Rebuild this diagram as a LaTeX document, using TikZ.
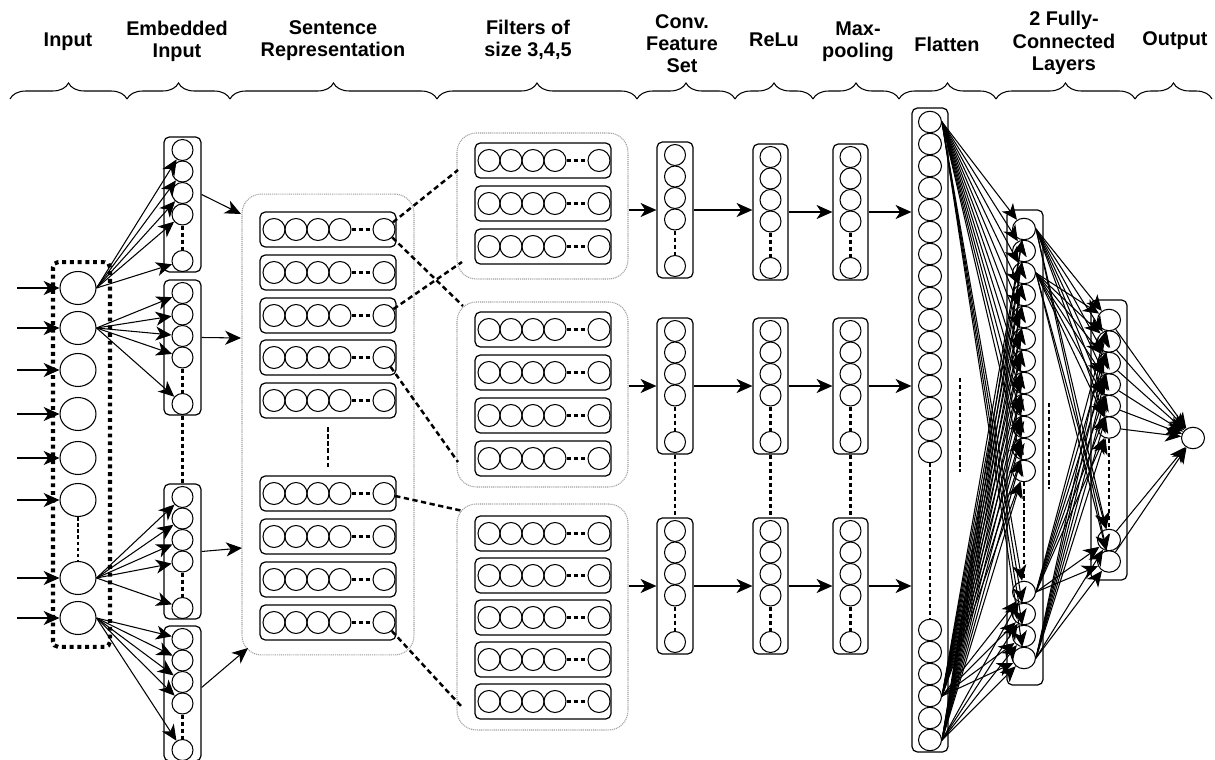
\documentclass[tikz,border=0pt]{standalone}
\usepackage{fontspec}
\setmainfont{Liberation Sans}
\usetikzlibrary{arrows.meta,decorations.pathreplacing,shapes.geometric,calc}
\begin{document}
\begin{tikzpicture}[x=0.02cm,y=-0.02cm,
  hdr/.style={font=\bfseries\fontsize{11.3}{12.6}\selectfont, align=center, inner sep=0pt},
  brc/.style={decorate, decoration={brace, amplitude=0.32cm}, line width=0.6pt},
  cir/.style={circle, draw, line width=0.6pt, minimum size=0.42cm, inner sep=0pt},
  rcir/.style={circle, draw, line width=0.6pt, minimum size=0.44cm, inner sep=0pt},
  ell/.style={ellipse, draw, line width=0.6pt, minimum width=0.72cm, minimum height=0.66cm, inner sep=0pt},
  fcell/.style={ellipse, draw, line width=0.6pt, minimum width=0.46cm, minimum height=0.43cm, inner sep=0pt},
  box/.style={draw, rounded corners=3pt, line width=0.7pt, inner sep=0pt},
  grp/.style={draw=gray!75, dash pattern=on 0.6pt off 0.5pt, line width=0.6pt, rounded corners=11pt, inner sep=0pt},
  inbox/.style={draw, line width=2.3pt, dash pattern=on 2.2pt off 2.2pt, rounded corners=3pt, inner sep=0pt},
  arr/.style={-{Stealth[length=9pt,width=8pt,inset=2.6pt]}, line width=0.6pt},
  bigdash/.style={line width=1.4pt, dash pattern=on 3pt off 2pt},
  indash/.style={line width=1.4pt, dash pattern=on 2.4pt off 1.6pt},
]
\useasboundingbox (0,0) rectangle (1215,760);

% headers
\node[hdr] (h1) at (68,42) {Input};
\node[hdr] (h2) at (177,41) {Embedded\\Input};
\node[hdr] (h3) at (333,41) {Sentence\\Representation};
\node[hdr] (h4) at (528,40) {Filters of\\size 3,4,5};
\node[hdr] (h5) at (682,44) {Conv.\\Feature\\Set};
\node[hdr] (h6) at (774,40) {ReLu};
\node[hdr] (h7) at (858,42) {Max-\\pooling};
\node[hdr] (h8) at (947,44) {Flatten};
\node[hdr] (h9) at (1064,43) {2 Fully-\\Connected\\Layers};
\node[hdr] (h10) at (1175,41) {Output};

% braces
\foreach \a/\b in {10/127,127/230,230/437,437/637,637/735,735/813,813/899,899/996,996/1135,1135/1212}
  \draw[brc] (\a,99) -- (\b,99);

% input
\node[inbox, minimum width=1.14cm, minimum height=7.7cm] (ingrp) at (81.5,454.5) {};
\foreach \y [count=\i] in {288,328,370,414,458,500,578,618} {
  \node[ell] (in\i) at (78,\y) {};
  \coordinate (src\i) at (17,\y);
}

% embedded input
\foreach \t [count=\b] in {137,280,484,626} {
  \node[box, minimum width=0.74cm, minimum height=2.7cm] (eb\b) at (182.5,\t+67.5) {};
  \foreach \o [count=\i] in {13,34.5,56,77.5,124}
    \node[cir] (e\b-\i) at (182.5,\t+\o) {};
  \draw[indash] (e\b-4) -- (e\b-5);
}
\draw[indash] (eb2) -- (eb3);

% sentence representation
\node[grp, minimum width=3.44cm, minimum height=9.22cm] (sent) at (328,424.5) {};
\foreach \t [count=\r] in {212,255,298,340,383,476,519,562,605} {
  \node[box, minimum width=2.72cm, minimum height=0.7cm] (sr\r) at (328,\t+17.5) {};
  \foreach \x [count=\i] in {274,296,318,340,384}
    \node[rcir] (s\r-\i) at (\x,\t+17.5) {};
  \draw[indash] (s\r-4) -- (s\r-5);
}
\draw[indash, shorten <=5pt, shorten >=4pt] (sr5) -- (sr6);

% filters
\node[grp, minimum width=3.42cm, minimum height=2.92cm] (fg1) at (542.5,206) {};
\node[grp, minimum width=3.42cm, minimum height=3.7cm] (fg2) at (542.5,394.5) {};
\node[grp, minimum width=3.42cm, minimum height=4.52cm] (fg3) at (542.5,617) {};
\foreach \t [count=\r] in {143,186,229} {
  \node[box, minimum width=2.72cm, minimum height=0.7cm] (fra\r) at (543,\t+17.5) {};
  \foreach \x [count=\i] in {489,511,533,555,599}
    \node[rcir] (fa\r-\i) at (\x,\t+17.5) {};
  \draw[indash] (fa\r-4) -- (fa\r-5);
}
\foreach \t [count=\r] in {312,355,398,441} {
  \node[box, minimum width=2.72cm, minimum height=0.7cm] (frb\r) at (543,\t+17.5) {};
  \foreach \x [count=\i] in {489,511,533,555,599}
    \node[rcir] (fb\r-\i) at (\x,\t+17.5) {};
  \draw[indash] (fb\r-4) -- (fb\r-5);
}
\foreach \t [count=\r] in {516,558,600,642,684} {
  \node[box, minimum width=2.72cm, minimum height=0.7cm] (frc\r) at (543,\t+17.5) {};
  \foreach \x [count=\i] in {489,511,533,555,599}
    \node[rcir] (fc\r-\i) at (\x,\t+17.5) {};
  \draw[indash] (fc\r-4) -- (fc\r-5);
}

% conv / relu / maxpool
\foreach \t [count=\i] in {142,318,518} {
  \node[box, minimum width=0.72cm, minimum height=2.72cm] (cv\i) at (675,\t+68) {};
  \foreach \o [count=\k] in {13,34.5,56,77.5,124}
    \node[cir] (c\i-\k) at (675,\t+\o) {};
  \draw[indash] (c\i-4) -- (c\i-5);
}
\foreach \t [count=\i] in {144,318,518} {
  \node[box, minimum width=0.7cm, minimum height=2.72cm] (rl\i) at (770.5,\t+68) {};
  \foreach \o [count=\k] in {13,34.5,56,77.5,124}
    \node[cir] (r\i-\k) at (770.5,\t+\o) {};
  \draw[indash] (r\i-4) -- (r\i-5);
  \node[box, minimum width=0.7cm, minimum height=2.72cm] (mx\i) at (850.5,\t+68) {};
  \foreach \o [count=\k] in {13,34.5,56,77.5,124}
    \node[cir] (m\i-\k) at (850.5,\t+\o) {};
  \draw[indash] (m\i-4) -- (m\i-5);
}
\draw[indash] (cv2) -- (cv3);
\draw[indash] (rl2) -- (rl3);
\draw[indash] (mx2) -- (mx3);

% flatten
\node[box, minimum width=0.72cm, minimum height=12.88cm] (fl) at (930,430) {};
\foreach \i in {1,...,16}
  \node[fcell] (fz\i) at (930,{122+22*(\i-1)}) {};
\foreach \i in {17,...,22}
  \node[fcell] (fz\i) at (930,{630+22*(\i-17)}) {};
\draw[indash] (fz16) -- (fz17);

% fully connected 1
\node[box, minimum width=0.72cm, minimum height=9.5cm] (fc1) at (1025,447.5) {};
\foreach \i in {1,...,12}
  \node[fcell] (ua\i) at (1024,{229+22*(\i-1)}) {};
\foreach \i in {13,...,16}
  \node[fcell] (ua\i) at (1024,{592+22*(\i-13)}) {};
\draw[indash] (ua12) -- (ua13);

% fully connected 2
\node[box, minimum width=0.72cm, minimum height=5.6cm] (fc2) at (1109,440) {};
\foreach \i in {1,...,6}
  \node[fcell] (ub\i) at (1109,{320+21.5*(\i-1)}) {};
\node[fcell] (ub7) at (1109,540) {};
\node[fcell] (ub8) at (1109,561.5) {};
\draw[indash] (ub6) -- (ub7);

% output
\node[fcell] (out) at (1193,438) {};

% free dashed marks between layers
\coordinate (ga) at (960,378); \coordinate (gb) at (960,472);
\coordinate (gc) at (1049,403); \coordinate (gd) at (1049,489);
\draw[indash] (ga) -- (gb);
\draw[indash] (gc) -- (gd);

% ---------- connectors ----------
\foreach \i in {1,...,8} \draw[arr] (src\i) -- (in\i);
\draw[line width=0.8pt, dash pattern=on 2pt off 1.5pt] (in6) -- (in7);
\foreach \i in {1,...,5} {
  \draw[arr] (in1.east) -- (e1-\i);
  \draw[arr] (in2.east) -- (e2-\i);
  \draw[arr] (in7.east) -- (e3-\i);
  \draw[arr] (in8.east) -- (e4-\i);
}

\coordinate (sin1) at (241,214);
\coordinate (sin2) at (241,338);
\coordinate (sin3) at (242,548);
\coordinate (sin4) at (248,648);
\draw[arr] ($(eb1.east)+(0,-10)$) -- (sin1);
\draw[arr] ($(eb2.east)+(0,-10)$) -- (sin2);
\draw[arr] (eb3.east) -- (sin3);
\draw[arr] ($(eb4.east)+(0,-6)$) -- (sin4);

\coordinate (dc1) at (458,170);
\coordinate (dc2) at (463,306);
\coordinate (dc3) at (462,262);
\coordinate (dc4) at (458,462);
\coordinate (dc5) at (463,511);
\coordinate (dc6) at (461,706);
\draw[bigdash] (s1-5) -- (dc1);
\draw[bigdash] (s1-5) -- (dc2);
\draw[bigdash] (s3-5) -- (dc3);
\draw[bigdash] (s4-5) -- (dc4);
\draw[bigdash] (s6-5) -- (dc5);
\draw[bigdash] (s9-5) -- (dc6);

\foreach \i in {1,2,3} {
  \draw[arr] (fg\i.east |- cv\i) -- (cv\i.west);
  \draw[arr] (cv\i.east) -- (cv\i.east -| rl\i.west);
  \draw[arr] (rl\i.east) -- (rl\i.east -| mx\i.west);
  \draw[arr] (mx\i.east) -- (mx\i.east -| fl.west);
}

\foreach \s in {1,20,22}
  \foreach \t in {1,...,16}
    \draw[arr] (fz\s.east) -- (ua\t);
\foreach \s in {1,3,13,16}
  \foreach \t in {1,...,8}
    \draw[arr] (ua\s.east) -- (ub\t);
\foreach \s in {1,...,8}
  \draw[arr] (ub\s) -- (out);
\end{tikzpicture}
\end{document}
